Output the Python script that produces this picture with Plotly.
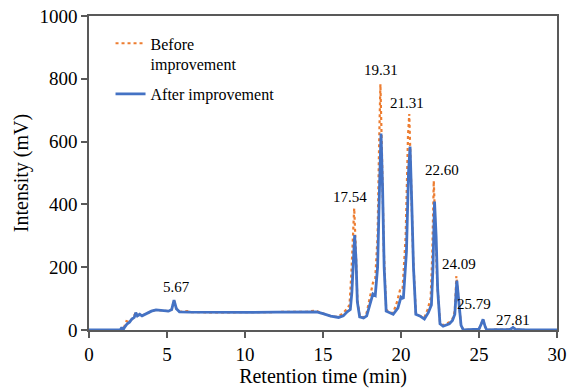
import plotly.graph_objects as go

# Retention time (min) and intensity (mV)
before_t = [0, 2.0, 2.2, 2.4, 2.6, 2.8, 3.0, 3.1, 3.25, 3.4, 3.7, 4.0, 4.3, 4.7, 5.1, 5.3, 5.45, 5.6, 5.8,
            6.3, 6.5, 8, 10, 12, 14, 14.5, 14.7, 15.0, 15.5, 15.9, 16.2, 16.5, 16.7, 16.82, 16.92, 17.0,
            17.1, 17.2, 17.35, 17.6, 17.8, 18.0, 18.2, 18.35, 18.5, 18.6, 18.68, 18.78, 18.9, 19.05, 19.3,
            19.5, 19.75, 19.95, 20.1, 20.3, 20.45, 20.53, 20.65, 20.78, 20.95, 21.2, 21.5, 21.7, 21.9,
            22.0, 22.1, 22.2, 22.32, 22.5, 22.7, 22.9, 23.1, 23.3, 23.45, 23.55, 23.68, 23.85, 24.0, 24.5,
            25.0, 25.15, 25.26, 25.4, 25.5, 26, 27.0, 27.18, 27.35, 28, 30]
before_v = [0, 0, 3, 28, 25, 38, 55, 46, 50, 46, 52, 60, 64, 63, 60, 65, 95, 68, 58,
            60, 57, 56, 56, 57, 58, 62, 58, 52, 44, 42, 50, 65, 80, 180, 330, 388,
            260, 100, 45, 40, 55, 100, 150, 165, 300, 600, 783, 560, 250, 65, 55,
            55, 90, 130, 130, 300, 620, 688, 480, 230, 55, 45, 40, 65, 100,
            230, 475, 330, 150, 25, 15, 20, 25, 35, 60, 172, 110, 15, 0, 2,
            3, 20, 34, 10, 0, 1, 2, 8, 2, 0, 0]

after_t = [0, 2.0, 2.1, 2.18, 2.3, 2.45, 2.6, 2.75, 2.9, 3.0, 3.1, 3.25, 3.4, 3.7, 4.0, 4.3, 4.7, 5.1, 5.3,
           5.45, 5.6, 5.8, 6.5, 8, 10, 12, 14, 14.6, 15.0, 15.5, 16.0, 16.3, 16.55, 16.75, 16.85, 16.95,
           17.03, 17.12, 17.2, 17.35, 17.6, 17.8, 18.0, 18.2, 18.35, 18.5, 18.62, 18.72, 18.82, 18.92,
           19.05, 19.3, 19.5, 19.8, 20.0, 20.15, 20.35, 20.48, 20.58, 20.68, 20.8, 20.95, 21.2, 21.5,
           21.75, 21.95, 22.05, 22.15, 22.25, 22.35, 22.5, 22.7, 22.9, 23.1, 23.3, 23.45, 23.58, 23.7,
           23.85, 24.0, 24.5, 25.0, 25.15, 25.26, 25.4, 25.5, 26, 27.0, 27.18, 27.35, 28, 30]
after_v = [0, 0, 8, 0, 10, 20, 25, 35, 40, 55, 45, 50, 45, 52, 60, 64, 63, 60, 65,
           95, 68, 58, 57, 56, 56, 57, 58, 58, 52, 44, 40, 45, 58, 65, 120, 250,
           302, 220, 90, 42, 38, 45, 80, 115, 110, 200, 450, 626, 450, 200,
           60, 55, 50, 70, 105, 100, 250, 500, 584, 420, 200, 50, 45, 35,
           55, 80, 200, 409, 300, 130, 20, 12, 15, 20, 30, 50, 157, 100,
           15, 0, 2, 3, 20, 34, 10, 0, 1, 2, 8, 2, 0, 0]

peak_labels = ["5.67", "17.54", "19.31", "21.31", "22.60", "24.09", "25.79", "27.81"]
label_x = [5.6, 16.7, 18.7, 20.4, 22.6, 23.7, 24.7, 27.2]
label_y = [137, 424, 828, 723, 510, 210, 83, 32]

x_ticks = [0, 5, 10, 15, 20, 25, 30]
y_ticks = [0, 200, 400, 600, 800, 1000]

FONT = "Liberation Serif"
AX = "#595959"

fig = go.Figure()
fig.add_trace(go.Scatter(x=before_t, y=before_v, mode="lines", name="Before<br>improvement",
                         legendgroup="before",
                         line=dict(color="#ED7D31", width=2.2, dash="dot")))
fig.add_trace(go.Scatter(x=after_t, y=after_v, mode="lines", name="After improvement",
                         legendgroup="after",
                         line=dict(color="#4472C4", width=2.8)))

for lab, lx, ly in zip(peak_labels, label_x, label_y):
    fig.add_annotation(x=lx, y=ly, text=lab, showarrow=False,
                       font=dict(family=FONT, size=15, color="#000000"))

axis_common = dict(showgrid=False, zeroline=False, showline=True, linecolor=AX, linewidth=1.5,
                   mirror=True, ticks="outside", ticklen=6, tickcolor=AX, tickwidth=1.5,
                   automargin=False, ticklabeloverflow="allow",
                   tickfont=dict(family=FONT, size=19, color="#000000"))
fig.update_xaxes(range=[0, 30], tickvals=x_ticks, ticktext=[str(v) for v in x_ticks],
                 title=dict(text="Retention time (min)", font=dict(family=FONT, size=20, color="#000000"),
                            standoff=2), **axis_common)
fig.update_yaxes(range=[0, 1000], tickvals=y_ticks, ticktext=[str(v) for v in y_ticks],
                 title=dict(text="Intensity (mV)", font=dict(family=FONT, size=20, color="#000000"),
                            standoff=5), **axis_common)

fig.update_layout(
    width=576, height=388,
    margin=dict(l=89, r=19, t=16, b=58),
    plot_bgcolor="white", paper_bgcolor="white",
    font=dict(family=FONT),
    legend=dict(x=0.046, y=0.967, xanchor="left", yanchor="top", valign="top",
                font=dict(family=FONT, size=16, color="#000000"),
                bgcolor="rgba(0,0,0,0)", tracegroupgap=6),
)

# remove the default page margin so the figure fills the 576x388 window
fig.write_html("out.html", config={"displayModeBar": False},
               post_script="document.body.style.margin='0';")
